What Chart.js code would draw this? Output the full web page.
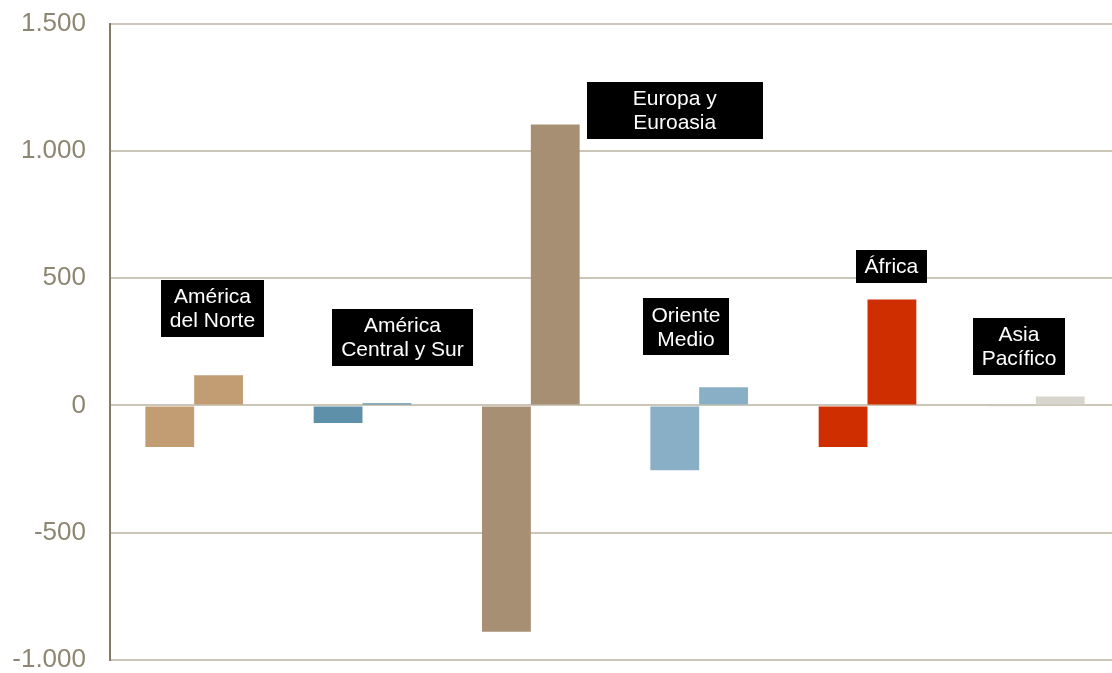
<!DOCTYPE html>
<html>
<head>
<meta charset="utf-8">
<script src="https://cdn.jsdelivr.net/npm/chart.js@4/dist/chart.umd.min.js"></script>
<style>
html,body{margin:0;padding:0;background:#fff;overflow:hidden;}
#clip{width:1112px;height:673px;overflow:hidden;position:relative;}
#wrap{width:1120px;height:673px;position:relative;}
</style>
</head>
<body>
<div id="clip"><div id="wrap"><canvas id="c"></canvas></div></div>
<script>
// Data
const categories = ["América del Norte", "América Central y Sur", "Europa y Euroasia", "Oriente Medio", "África", "Asia Pacífico"];
const labelLines = [["América", "del Norte"], ["América", "Central y Sur"], ["Europa y", "Euroasia"], ["Oriente", "Medio"], ["África"], ["Asia", "Pacífico"]];
const negativeValues = [-163, -69, -889, -255, -163, -3];
const positiveValues = [118, 8, 1103, 71, 416, 35];
const tickValues = [-1000, -500, 0, 500, 1000, 1500];
const tickLabels = ["-1.000", "-500", "0", "500", "1.000", "1.500"];
const regionColors = ["#c29d74", "#5f90a9", "#a68f73", "#88afc6", "#cf2e00", "#d8d5ce"];
const negColors = ["#c29d74", "#5f90a9", "#a68f73", "#88afc6", "#cf2e00", "#e9e7e1"];
// label box placement (value of box top, x offset from category centre in px, box width)
const labelTopValues = [494, 380, 1271, 420, 612, 345];
const labelOffsets = [18.3, 39.9, 143.9, -13.2, 23.9, -16.8];
const labelWidths = [103, 141, 176, 86, 71, 92];

const labelPlugin = {
  id: 'regionLabels',
  afterDatasetsDraw(chart) {
    const ctx = chart.ctx;
    const xs = chart.scales.x, ys = chart.scales.y;
    ctx.save();
    ctx.font = '21px "Liberation Sans", Arial, sans-serif';
    ctx.textAlign = 'center';
    ctx.textBaseline = 'middle';
    labelLines.forEach((lines, i) => {
      const cx = xs.getPixelForValue(i) + labelOffsets[i];
      const top = ys.getPixelForValue(labelTopValues[i]);
      const lh = 24;
      const h = lines.length * lh + 9;
      const w = labelWidths[i];
      ctx.fillStyle = '#000';
      ctx.fillRect(Math.round(cx - w / 2), Math.round(top), w, h);
      ctx.fillStyle = '#fff';
      lines.forEach((t, j) => {
        ctx.fillText(t, cx, top + 4.5 + lh / 2 + j * lh + 1);
      });
    });
    ctx.restore();
  }
};

new Chart(document.getElementById('c'), {
  type: 'bar',
  data: {
    labels: categories,
    datasets: [
      { label: 'neg', data: negativeValues, backgroundColor: negColors, borderWidth: 0 },
      { label: 'pos', data: positiveValues, backgroundColor: regionColors, borderWidth: 0 }
    ]
  },
  options: {
    responsive: true,
    maintainAspectRatio: false,
    animation: false,
    layout: { padding: { top: 23.5, bottom: 13, left: 0, right: 0 } },
    plugins: { legend: { display: false }, tooltip: { enabled: false } },
    datasets: { bar: { categoryPercentage: 0.58, barPercentage: 1.0 } },
    scales: {
      x: { display: false, grid: { display: false } },
      y: {
        min: -1000, max: 1500,
        afterBuildTicks(axis) { axis.ticks = tickValues.map(v => ({ value: v })); },
        afterFit(axis) { axis.width = 110; axis.paddingTop = 0; axis.paddingBottom = 0; },
        ticks: {
          color: '#8c8672',
          font: { family: '"Liberation Sans", Arial, sans-serif', size: 26 },
          padding: 24,
          callback(v) { const k = tickValues.indexOf(v); return k >= 0 ? tickLabels[k] : ''; }
        },
        grid: { color: '#cbc6b8', lineWidth: 2, drawTicks: false },
        border: { display: true, color: '#857a63', width: 2 }
      }
    }
  },
  plugins: [labelPlugin]
});
</script>
</body>
</html>
